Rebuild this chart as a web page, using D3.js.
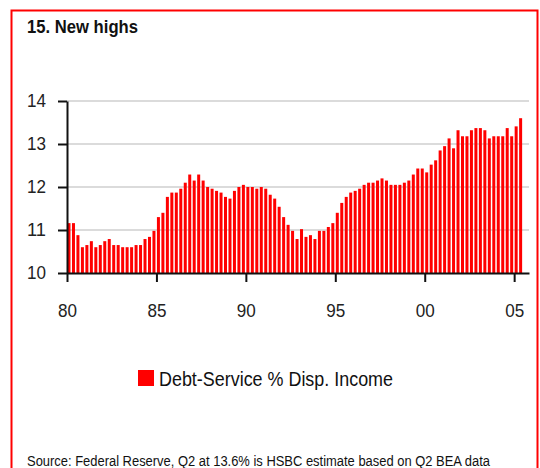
<!DOCTYPE html>
<html>
<head>
<meta charset="utf-8">
<script src="https://cdn.jsdelivr.net/npm/d3@7"></script>
<style>
  body { margin: 0; background: #fff; }
  svg { display: block; font-family: "Liberation Sans", Arial, sans-serif; }
</style>
</head>
<body>
<div id="chart-area"></div>
<script>
// Quarterly values, 1980 Q1 to 2005 Q2
const startYear = 1980;
const debtService = [
  11.16, 11.16, 10.88, 10.60,   // 1980
  10.65, 10.74, 10.60, 10.65,   // 1981
  10.74, 10.79, 10.65, 10.65,   // 1982
  10.60, 10.60, 10.60, 10.65,   // 1983
  10.65, 10.79, 10.84, 10.98,   // 1984
  11.30, 11.40, 11.77, 11.87,   // 1985
  11.87, 11.96, 12.10, 12.29,   // 1986
  12.15, 12.29, 12.15, 12.00,   // 1987
  11.96, 11.91, 11.87, 11.77,   // 1988
  11.73, 11.91, 12.00, 12.05,   // 1989
  12.00, 12.00, 11.96, 12.00,   // 1990
  11.96, 11.82, 11.73, 11.54,   // 1991
  11.30, 11.12, 10.98, 10.79,   // 1992
  11.02, 10.84, 10.88, 10.79,   // 1993
  10.98, 10.98, 11.07, 11.16,   // 1994
  11.40, 11.63, 11.77, 11.87,   // 1995
  11.91, 11.96, 12.05, 12.10,   // 1996
  12.10, 12.15, 12.20, 12.15,   // 1997
  12.05, 12.05, 12.05, 12.10,   // 1998
  12.15, 12.29, 12.43, 12.43,   // 1999
  12.34, 12.52, 12.62, 12.85,   // 2000
  12.95, 13.13, 12.90, 13.32,   // 2001
  13.18, 13.18, 13.32, 13.37,   // 2002
  13.37, 13.32, 13.13, 13.18,   // 2003
  13.18, 13.18, 13.37, 13.18,   // 2004
  13.41, 13.60                  // 2005
];
const yTicks = [10, 11, 12, 13, 14];
const xTicks = [1980, 1985, 1990, 1995, 2000, 2005];
const seriesName = "Debt-Service % Disp. Income";
const titleText = "15. New highs";
const sourceText = "Source: Federal Reserve, Q2 at 13.6% is HSBC estimate based on Q2 BEA  data";

const width = 540;
const height = 468;
const barWidth = 3;

const svg = d3.select("#chart-area")
    .append("svg")
    .attr("width", width)
    .attr("height", height);

// Red frame (open at the bottom)
svg.append("path")
    .attr("d", "M11.5,468V10.5H537.5V468")
    .attr("fill", "none")
    .attr("stroke", "#ff0000")
    .attr("stroke-width", 2);

// narrow-looking text: squeeze regular font into the width seen in the picture
svg.append("text")
    .attr("x", 27)
    .attr("y", 33)
    .attr("textLength", 111)
    .attr("lengthAdjust", "spacingAndGlyphs")
    .text(titleText)
    .style("font-size", "18.5px")
    .style("font-weight", "bold")
    .style("fill", "#111");

const x = d3.scaleLinear().domain([1980, 2005.83]).range([67, 529]);
const y = d3.scaleLinear().domain([10, 14]).range([273, 101]);

// Gridlines
svg.selectAll(".grid")
    .data(yTicks.filter(d => d > 10))
    .enter()
    .append("line")
    .attr("class", "grid")
    .attr("x1", x.range()[0])
    .attr("x2", x.range()[1])
    .attr("y1", d => y(d))
    .attr("y2", d => y(d))
    .attr("stroke", "#cfcfcf")
    .attr("stroke-width", 1.6);

// Bars
svg.selectAll(".bar")
    .data(debtService)
    .enter()
    .append("rect")
    .attr("class", "bar")
    .attr("x", (d, i) => x(startYear + i / 4) + 0.5)
    .attr("y", d => y(d))
    .attr("width", barWidth)
    .attr("height", d => y(10) - y(d))
    .attr("fill", "#ff0000");

// Axes
const yAxis = svg.append("g")
    .attr("transform", `translate(${x.range()[0]},0)`)
    .call(d3.axisLeft(y).tickValues(yTicks).tickSizeInner(9).tickSizeOuter(0).tickPadding(12)
        .tickFormat(d3.format("d")));

const xAxis = svg.append("g")
    .attr("transform", `translate(0,${y(10)})`)
    .call(d3.axisBottom(x).tickValues(xTicks).tickSizeInner(9).tickSizeOuter(0).tickPadding(22)
        .tickFormat(d => String(d).slice(2)));

[yAxis, xAxis].forEach(g => {
    g.selectAll("path, line").attr("stroke", "#111").attr("stroke-width", 2);
    g.selectAll("text").style("font-size", "18.5px").style("fill", "#222")
        .style("font-family", "inherit")
        .attr("textLength", 19)
        .attr("lengthAdjust", "spacingAndGlyphs");
});

// Legend
svg.append("rect")
    .attr("x", 138)
    .attr("y", 370)
    .attr("width", 16)
    .attr("height", 16)
    .attr("fill", "#ff0000");

svg.append("text")
    .attr("x", 159)
    .attr("y", 386)
    .attr("textLength", 234)
    .attr("lengthAdjust", "spacingAndGlyphs")
    .text(seriesName)
    .style("font-size", "20px")
    .style("fill", "#111");

svg.append("text")
    .attr("x", 27)
    .attr("y", 466)
    .attr("textLength", 463)
    .attr("lengthAdjust", "spacingAndGlyphs")
    .text(sourceText)
    .style("font-size", "14px")
    .style("fill", "#111");
</script>
</body>
</html>
